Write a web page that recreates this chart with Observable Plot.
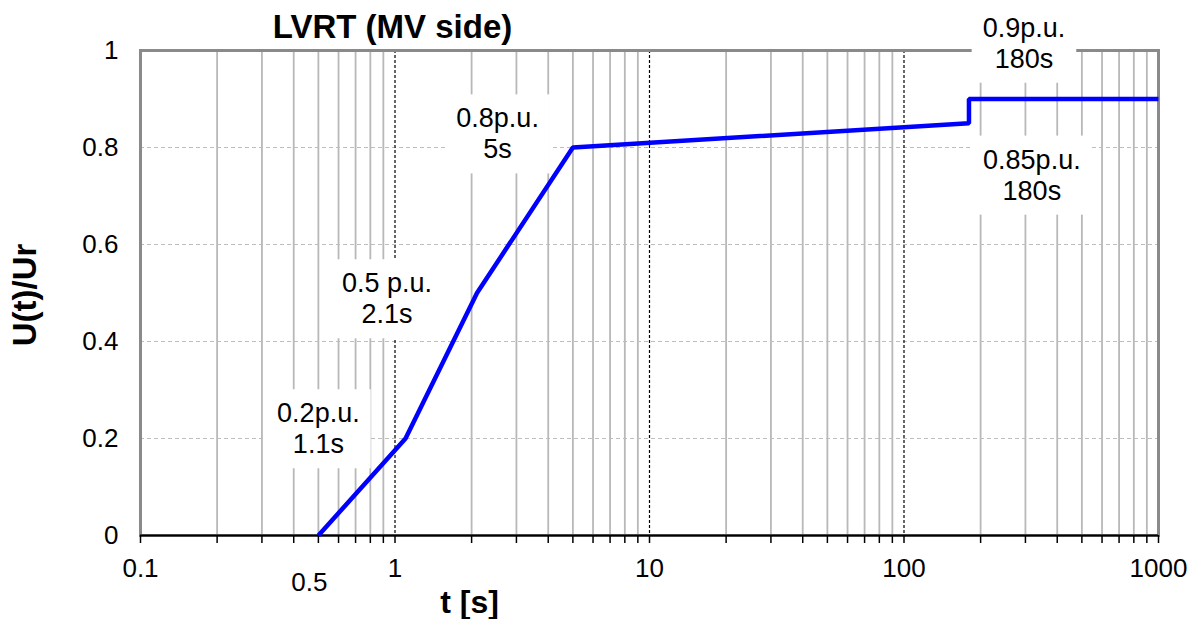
<!DOCTYPE html>
<html>
<head>
<meta charset="utf-8">
<script src="https://cdn.jsdelivr.net/npm/d3@7"></script>
<script src="https://cdn.jsdelivr.net/npm/@observablehq/plot@0.6"></script>
<style>
  html, body { margin: 0; padding: 0; background: white; }
</style>
</head>
<body>
<div id="chart"></div>
<script>
// ---- data ----
const tValues = [0.5, 1.1, 2.1, 5, 180, 180, 1000];
const uValues = [0, 0.2, 0.5, 0.8, 0.85, 0.9, 0.9];

const labelText = ["0.2p.u.\n1.1s", "0.5 p.u.\n2.1s", "0.8p.u.\n5s", "0.9p.u.\n180s", "0.85p.u.\n180s"];
const labelT = [0.5, 0.93, 2.53, 296, 318];
const labelU = [0.222, 0.49, 0.83, 1.017, 0.745];

const xTickLabels = [0.1, 1, 10, 100, 1000];
const xExtraLabel = [0.5];
const xMajorGrid = [1, 10, 100];
const yTicks = [0, 0.2, 0.4, 0.6, 0.8, 1];
const yGrid = [0.2, 0.4, 0.6, 0.8];

const titleText = "LVRT (MV side)";
const xLabel = "t [s]";
const yLabel = "U(t)/Ur";

// ---- build ----
const curve = tValues.map((t, i) => ({t, u: uValues[i]}));
const labels = labelText.map((s, i) => ({s, t: labelT[i], u: labelU[i]}));
const xAllTicks = d3.scaleLog().domain([0.1, 1000]).ticks();
const xMinor = xAllTicks.filter(v => !xMajorGrid.includes(v));

const font = "'Liberation Sans', Arial, sans-serif";

const chart = Plot.plot({
  width: 1200,
  height: 619,
  marginLeft: 140,
  marginRight: 42,
  marginTop: 50,
  marginBottom: 84,
  style: {fontFamily: font, background: "white", color: "black"},
  x: {type: "log", domain: [0.1, 1000]},
  y: {domain: [0, 1]},
  marks: [
    Plot.ruleX(xMinor, {stroke: "#b8b8b8", strokeWidth: 1.8}),
    Plot.ruleY(yGrid, {stroke: "#bdbdbd", strokeWidth: 1, strokeDasharray: "4,3"}),
    Plot.ruleX(xMajorGrid, {stroke: "black", strokeWidth: 1.2, strokeDasharray: "3,2"}),
    Plot.frame({stroke: "#8a8a8a", strokeWidth: 3}),
    Plot.ruleY([0], {stroke: "black", strokeWidth: 2}),
    Plot.axisX({ticks: xAllTicks, tickSize: 8, tickFormat: () => "", label: null, strokeWidth: 1.5}),
    Plot.axisY({ticks: yTicks, tickSize: 0, tickPadding: 22, tickFormat: d => String(d), label: null, fontSize: 26}),
    Plot.text(xTickLabels, {x: d => d, frameAnchor: "bottom", dy: 33, fontSize: 26, lineAnchor: "middle", textAnchor: "middle", text: d => String(d)}),
    Plot.text(xExtraLabel, {x: d => d, frameAnchor: "bottom", dy: 47, dx: -9, fontSize: 26, lineAnchor: "middle", textAnchor: "middle", text: d => String(d)}),
    Plot.line(curve, {x: "t", y: "u", stroke: "#0000ff", strokeWidth: 4.5, strokeLinejoin: "miter", strokeLinecap: "butt"}),
    Plot.text(labels, {x: "t", y: "u", text: "s", fontSize: 27, lineHeight: 1.15, lineAnchor: "middle", textAnchor: "middle", fill: "black"}),
    Plot.text([titleText], {frameAnchor: "top-left", dx: 252, dy: -23, fontSize: 33, fontWeight: "bold", lineAnchor: "middle", textAnchor: "middle"}),
    Plot.text([xLabel], {frameAnchor: "bottom-left", dx: 329, dy: 67, fontSize: 32, fontWeight: "bold", lineAnchor: "middle", textAnchor: "middle"}),
    Plot.text([yLabel], {frameAnchor: "left", dx: -115, dy: 2, rotate: -90, fontSize: 33, fontWeight: "bold", lineAnchor: "middle", textAnchor: "middle"})
  ]
});

document.getElementById("chart").append(chart);

// white label boxes behind annotation text
d3.select(chart).selectAll("text").filter(function () {
  return this.textContent.includes("p.u.");
}).each(function () {
  const b = this.getBBox();
  const padX = 11, padY = 9;
  const rect = document.createElementNS("http://www.w3.org/2000/svg", "rect");
  rect.setAttribute("x", b.x - padX);
  rect.setAttribute("y", b.y - padY);
  rect.setAttribute("width", b.width + 2 * padX);
  rect.setAttribute("height", b.height + 2 * padY);
  rect.setAttribute("fill", "white");
  rect.setAttribute("stroke", "none");
  const tr = this.getAttribute("transform");
  if (tr) rect.setAttribute("transform", tr);
  this.parentNode.insertBefore(rect, this);
});
</script>
</body>
</html>
